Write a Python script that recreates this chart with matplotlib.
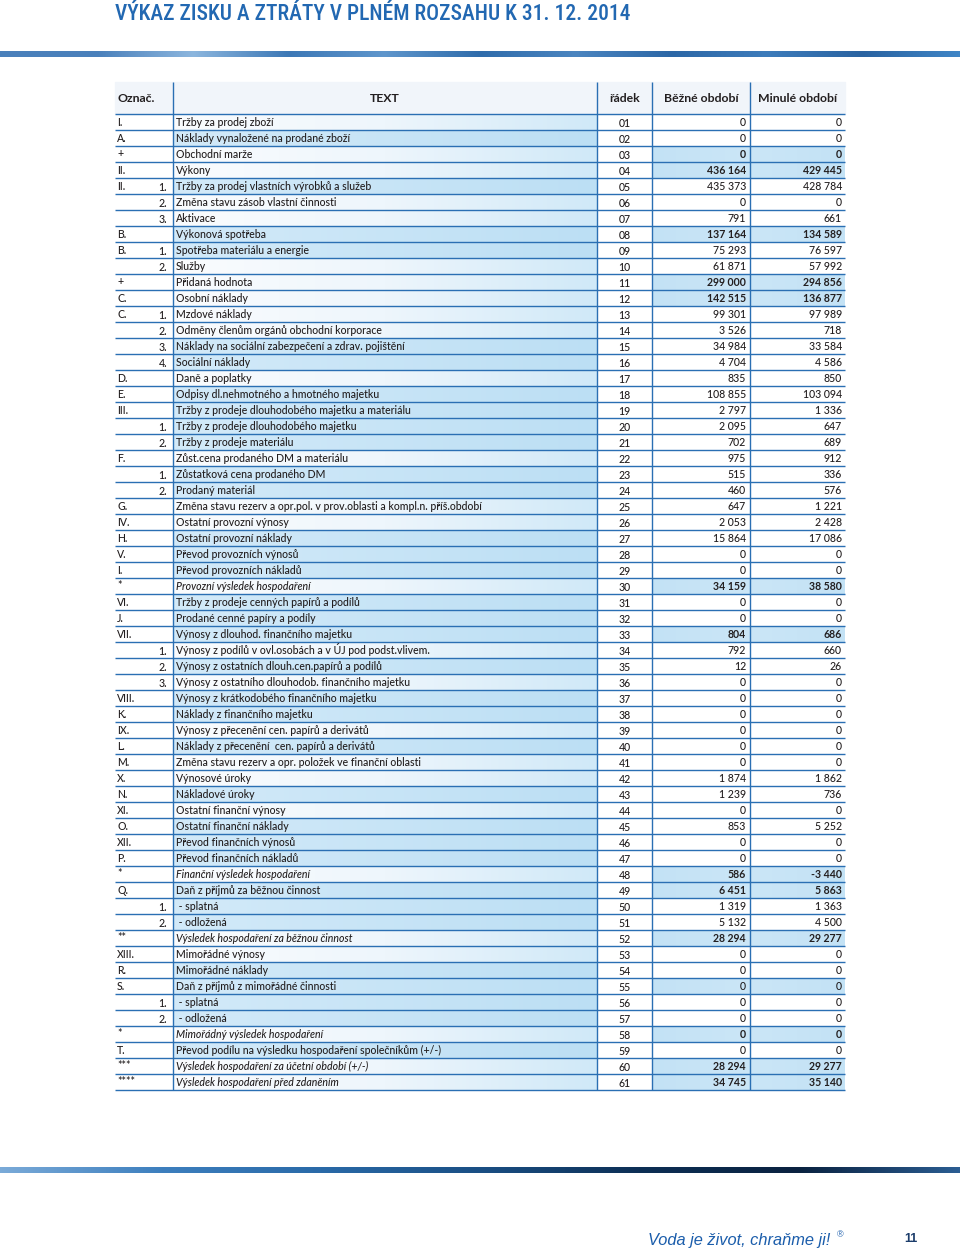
import numpy as np
import matplotlib
matplotlib.use('Agg')
import matplotlib.pyplot as plt
from matplotlib import font_manager as fm
from matplotlib.colors import to_rgb
from matplotlib.patches import Rectangle

# ---- data -------------------------------------------------------------
title = 'VÝKAZ ZISKU A ZTRÁTY V PLNÉM ROZSAHU K 31. 12. 2014'
headers = ['Označ.', 'TEXT', 'řádek', 'Běžné období', 'Minulé období']

oznac = ['I.', 'A.', '+', 'II.', 'II.', '', '', 'B.', 'B.', '', '+', 'C.', 'C.', '', '', '',
         'D.', 'E.', 'III.', '', '', 'F.', '', '', 'G.', 'IV.', 'H.', 'V.', 'I.', '*',
         'VI.', 'J.', 'VII.', '', '', '', 'VIII.', 'K.', 'IX.', 'L.', 'M.', 'X.', 'N.',
         'XI.', 'O.', 'XII.', 'P.', '*', 'Q.', '', '', '**', 'XIII.', 'R.', 'S.', '', '',
         '*', 'T.', '***', '****']
sub_num = ['', '', '', '', '1.', '2.', '3.', '', '1.', '2.', '', '', '1.', '2.', '3.', '4.',
           '', '', '', '1.', '2.', '', '1.', '2.', '', '', '', '', '', '',
           '', '', '', '1.', '2.', '3.', '', '', '', '', '', '', '',
           '', '', '', '', '', '', '1.', '2.', '', '', '', '', '1.', '2.',
           '', '', '', '']
texts = [
    'Tržby za prodej zboží',
    'Náklady vynaložené na prodané zboží',
    'Obchodní marže',
    'Výkony',
    'Tržby za prodej vlastních výrobků a služeb',
    'Změna stavu zásob vlastní činnosti',
    'Aktivace',
    'Výkonová spotřeba',
    'Spotřeba materiálu a energie',
    'Služby',
    'Přidaná hodnota',
    'Osobní náklady',
    'Mzdové náklady',
    'Odměny členům orgánů obchodní korporace',
    'Náklady na sociální zabezpečení a zdrav. pojištění',
    'Sociální náklady',
    'Daně a poplatky',
    'Odpisy dl.nehmotného a hmotného majetku',
    'Tržby z prodeje dlouhodobého majetku a materiálu',
    'Tržby z prodeje dlouhodobého majetku',
    'Tržby z prodeje materiálu',
    'Zůst.cena prodaného DM a materiálu',
    'Zůstatková cena prodaného DM',
    'Prodaný materiál',
    'Změna stavu rezerv a opr.pol. v prov.oblasti a kompl.n. příš.období',
    'Ostatní provozní výnosy',
    'Ostatní provozní náklady',
    'Převod provozních výnosů',
    'Převod provozních nákladů',
    'Provozní výsledek hospodaření',
    'Tržby z prodeje cenných papírů a podílů',
    'Prodané cenné papíry a podíly',
    'Výnosy z dlouhod. finančního majetku',
    'Výnosy z podílů v ovl.osobách a v ÚJ pod podst.vlivem.',
    'Výnosy z ostatních dlouh.cen.papírů a podílů',
    'Výnosy z ostatního dlouhodob. finančního majetku',
    'Výnosy z krátkodobého finančního majetku',
    'Náklady z finančního majetku',
    'Výnosy z přecenění cen. papírů a derivátů',
    'Náklady z přecenění  cen. papírů a derivátů',
    'Změna stavu rezerv a opr. položek ve finanční oblasti',
    'Výnosové úroky',
    'Nákladové úroky',
    'Ostatní finanční výnosy',
    'Ostatní finanční náklady',
    'Převod finančních výnosů',
    'Převod finančních nákladů',
    'Finanční výsledek hospodaření',
    'Daň z příjmů za běžnou činnost',
    ' - splatná',
    ' - odložená',
    'Výsledek hospodaření za běžnou činnost',
    'Mimořádné výnosy',
    'Mimořádné náklady',
    'Daň z příjmů z mimořádné činnosti',
    ' - splatná',
    ' - odložená',
    'Mimořádný výsledek hospodaření',
    'Převod podílu na výsledku hospodaření společníkům (+/-)',
    'Výsledek hospodaření za účetní období (+/-)',
    'Výsledek hospodaření před zdaněním',
]
radek = ['%02d' % i for i in range(1, 62)]
bezne = [0, 0, 0, 436164, 435373, 0, 791, 137164, 75293, 61871, 299000, 142515, 99301,
         3526, 34984, 4704, 835, 108855, 2797, 2095, 702, 975, 515, 460, 647, 2053,
         15864, 0, 0, 34159, 0, 0, 804, 792, 12, 0, 0, 0, 0, 0, 0, 1874, 1239, 0, 853,
         0, 0, 586, 6451, 1319, 5132, 28294, 0, 0, 0, 0, 0, 0, 0, 28294, 34745]
minule = [0, 0, 0, 429445, 428784, 0, 661, 134589, 76597, 57992, 294856, 136877, 97989,
          718, 33584, 4586, 850, 103094, 1336, 647, 689, 912, 336, 576, 1221, 2428,
          17086, 0, 0, 38580, 0, 0, 686, 660, 26, 0, 0, 0, 0, 0, 0, 1862, 736, 0, 5252,
          0, 0, -3440, 5863, 1363, 4500, 29277, 0, 0, 0, 0, 0, 0, 0, 29277, 35140]
bold_rows = [3, 4, 8, 11, 12, 30, 33, 48, 49, 52, 58, 60, 61]
shaded_rows = [3, 4, 8, 11, 12, 30, 33, 48, 49, 52, 55, 58, 60, 61]
italic_rows = [30, 48, 52, 58, 60, 61]
# text column: rows with stronger blue fill
text_strong = [2, 5, 8, 9, 15, 16, 18, 19, 20, 21, 23, 24, 27, 28, 29, 31, 32, 33, 35,
               37, 38, 40, 43, 45, 46, 47, 49, 50, 51, 54, 55, 56, 57, 59]

footer = 'Voda je život, chraňme ji!'
page_no = '11'

# ---- fonts ------------------------------------------------------------
names = {f.name for f in fm.fontManager.ttflist}
narrow = next((n for n in ['Roboto Condensed', 'Liberation Sans Narrow', 'Roboto'] if n in names),
              'DejaVu Sans')
body = ['Lato', 'DejaVu Sans']
TW = 'medium'

BLUE = '#2a6fb3'
DARK = '#231f20'
CELL = '#c3e2f5'


def fmt(v):
    s = '{:,}'.format(abs(v)).replace(',', ' ')
    return ('-' if v < 0 else '') + s


def hgrad(ax, x0, x1, y0, y1, colors, n=256):
    cols = np.array([to_rgb(c) for c in colors])
    pos = np.linspace(0, 1, len(cols))
    t = np.linspace(0, 1, n)
    arr = np.stack([np.interp(t, pos, cols[:, k]) for k in range(3)], axis=-1)[None, :, :]
    ax.imshow(arr, extent=[x0, x1, y1, y0], aspect='auto', interpolation='bilinear', zorder=1)


fig = plt.figure(figsize=(9.6, 12.52), dpi=100)
ax = fig.add_axes([0, 0, 1, 1])
ax.set_xlim(0, 960)
ax.set_ylim(1252, 0)
ax.axis('off')

# title
ax.text(115, 14, title, fontsize=14 if narrow == 'Roboto' else 15.5, fontweight='medium',
        color='#2268b2', family=[narrow, 'DejaVu Sans'], ha='left', va='center')

# decorative bars
hgrad(ax, 0, 960, 51.5, 57, ['#4a80bb', '#4a80bb', '#8cb6de', '#3c78b6', '#5f96cc', '#2f6cab',
                             '#4b85c0', '#2c67a6', '#3d7cbb', '#2a63a1', '#3f85c6'])
hgrad(ax, 0, 960, 1167.5, 1173, ['#7aaad8', '#3d7fbe', '#2a6aa8', '#1a4f84', '#0d2f55',
                                 '#0a2240', '#2b5d92'])

# table geometry
xs = [115, 173, 597, 652, 750, 845]
top_h, row0, rh = 82, 114, 16
nrows = len(texts)
y_end = row0 + nrows * rh

# header
ax.add_patch(Rectangle((xs[0], top_h), xs[-1] - xs[0], row0 - top_h, color='#f1f5fa', zorder=0))
hx = [117, (xs[1] + xs[2]) / 2, (xs[2] + xs[3]) / 2, (xs[3] + xs[4]) / 2, (xs[4] + xs[5]) / 2]
for i, h in enumerate(headers):
    ax.text(hx[i], 99, h, fontsize=8.8, fontweight='bold', color=DARK, family=body,
            ha='left' if i == 0 else 'center', va='center', zorder=5)

# rows
for i in range(nrows):
    r = i + 1
    y = row0 + i * rh
    yc = y + rh / 2
    if r in text_strong:
        hgrad(ax, xs[1], xs[2], y, y + rh, ['#d3eaf9', '#bcdff4'])
    else:
        hgrad(ax, xs[1], xs[2], y, y + rh, ['#fafcfe', '#eef6fc', '#d0e9f8'])
    if r in shaded_rows:
        hgrad(ax, xs[3], xs[5], y, y + rh, [CELL, '#cbe6f7', CELL])
    style = 'italic' if r in italic_rows else 'normal'
    ax.text(117, yc, oznac[i], fontsize=7.6, color=DARK, family=body, fontweight=TW,
            ha='left', va='center', zorder=5)
    ax.text(167, yc + 1.5, sub_num[i], fontsize=7.6, color=DARK, family=body, fontweight=TW,
            ha='right', va='center', zorder=5)
    ax.text(176, yc, texts[i], fontsize=7.6, color=DARK, family=body, style=style, fontweight=TW,
            ha='left', va='center', zorder=5)
    ax.text((xs[2] + xs[3]) / 2, yc + 1.5, radek[i], fontsize=7.6, color=DARK, family=body,
            fontweight=TW, ha='center', va='center', zorder=5)
    w = 'bold' if r in bold_rows else TW
    ax.text(746, yc, fmt(bezne[i]), fontsize=7.6, color=DARK, family=body, fontweight=w,
            ha='right', va='center', zorder=5)
    ax.text(842, yc, fmt(minule[i]), fontsize=7.6, color=DARK, family=body, fontweight=w,
            ha='right', va='center', zorder=5)

# grid lines
for i in range(nrows + 1):
    y = row0 + i * rh
    ax.plot([xs[0], xs[-1]], [y, y], color=BLUE, lw=1.0, zorder=4, solid_capstyle='butt')
for x in xs[1:-1]:
    ax.plot([x, x], [top_h, y_end], color=BLUE, lw=1.0, zorder=4, solid_capstyle='butt')

# footer
ax.text(648, 1241, footer, fontsize=11.8, style='italic', color='#1b5dab',
        family=['Liberation Sans', 'DejaVu Sans'], ha='left', va='center')
ax.text(837, 1235, '®', fontsize=6.5, color='#1b5dab', family=['Liberation Sans', 'DejaVu Sans'],
        ha='left', va='center')
ax.text(904, 1239, page_no, fontsize=9, fontweight='bold', color='#1c3d6b',
        family=['Liberation Sans', 'DejaVu Sans'], ha='left', va='center')

fig.savefig('out.png', dpi=100)
